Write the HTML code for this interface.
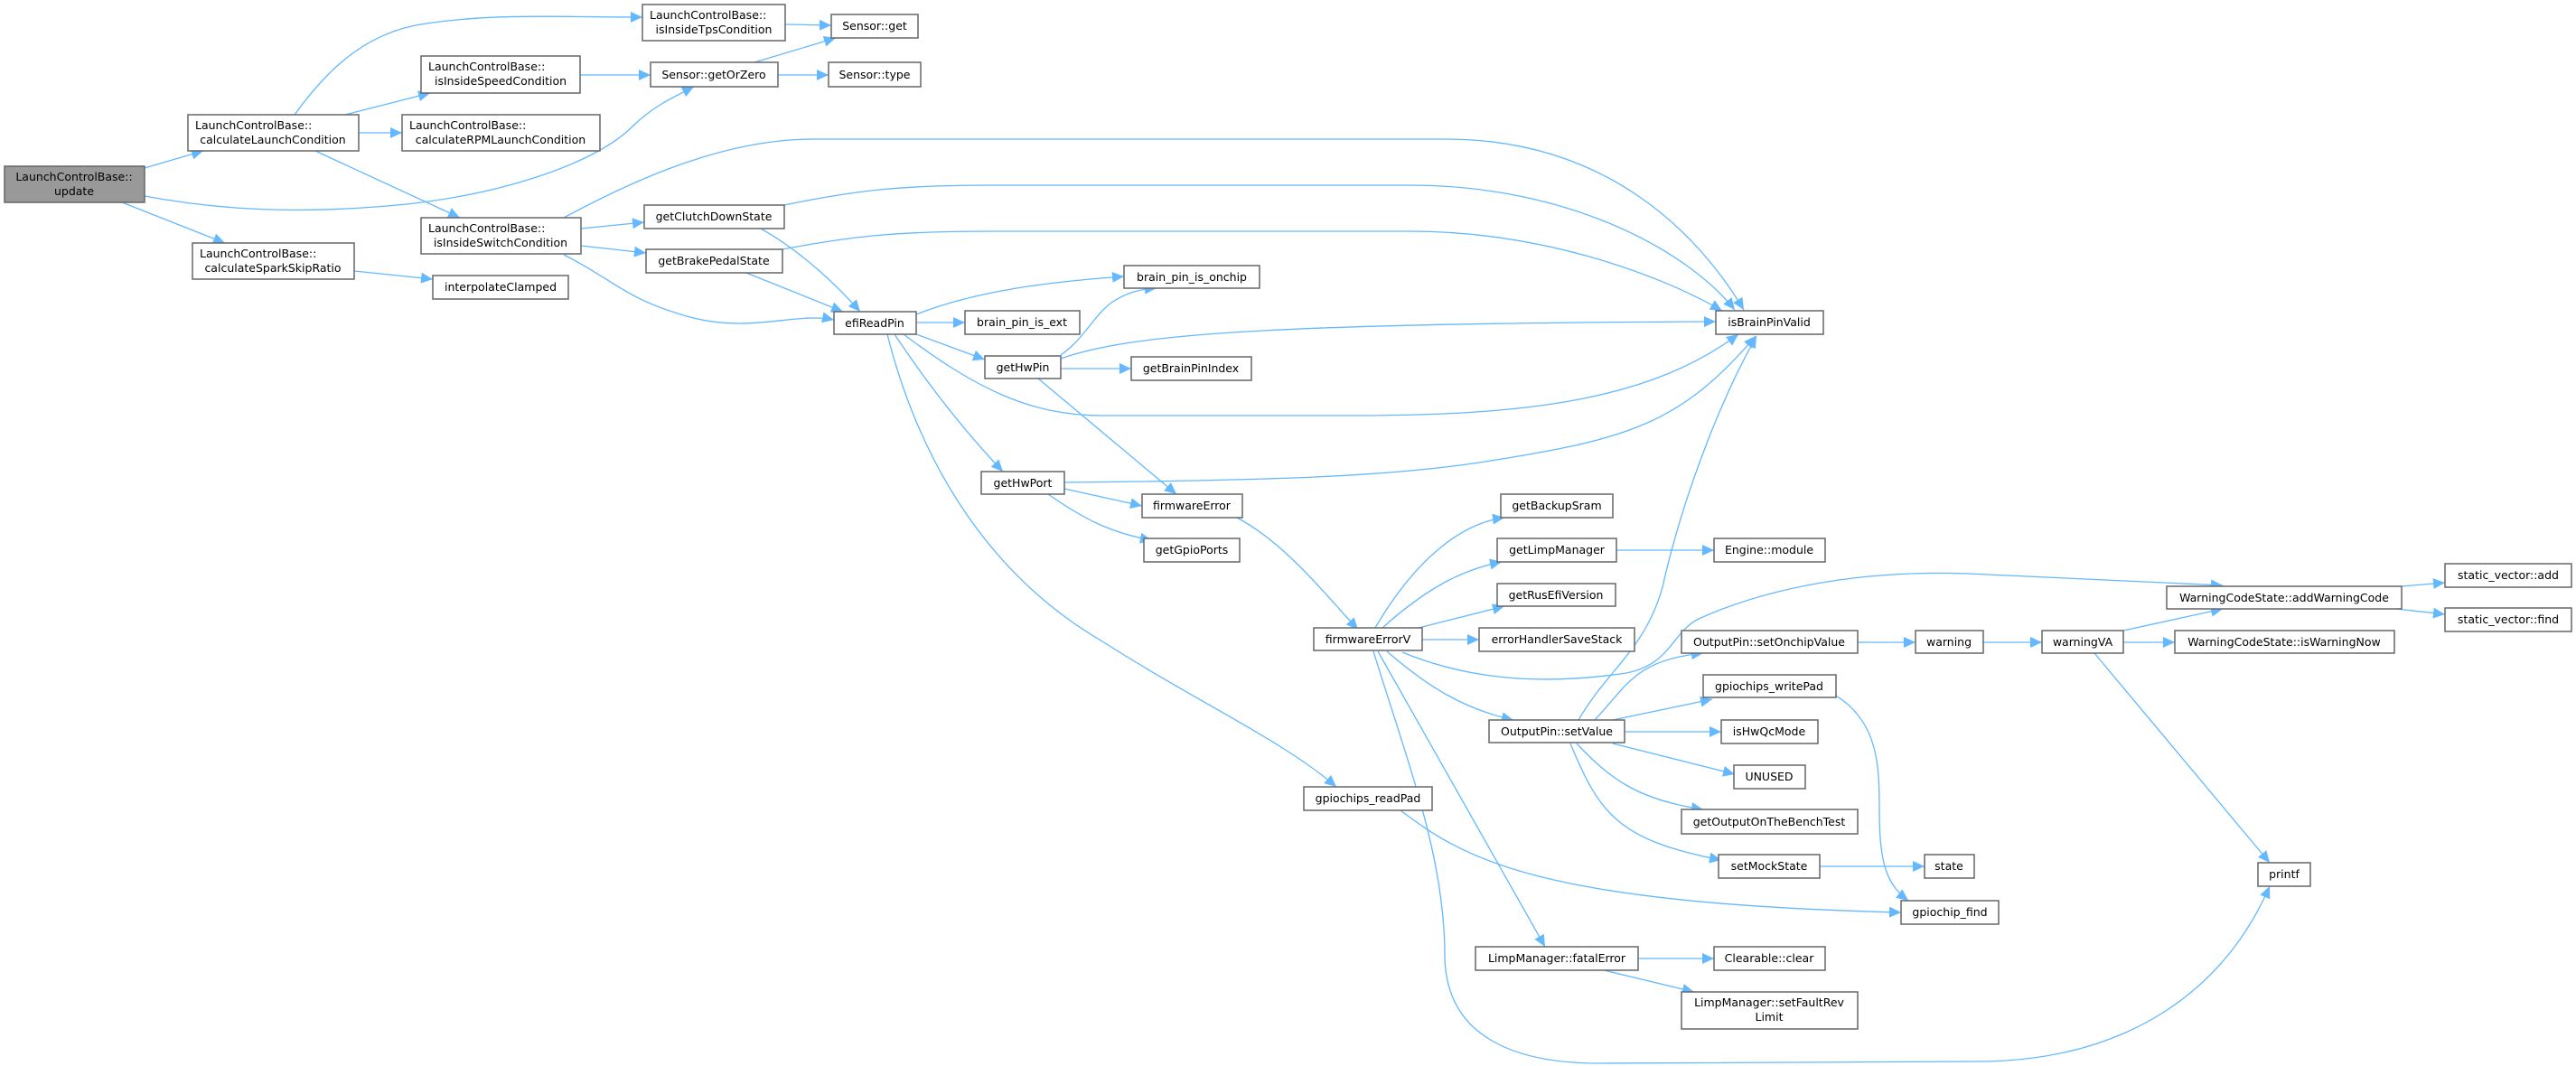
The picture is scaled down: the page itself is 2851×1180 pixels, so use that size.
<!DOCTYPE html>
<html><head><meta charset="utf-8"><style>
html,body{margin:0;padding:0;background:#fff;}
svg{display:block;}
text{font-family:"DejaVu Sans","Liberation Sans",sans-serif;font-size:12.5px;fill:#000;}
.n{fill:#fff;stroke:#666;stroke-width:1.5;}
.e{fill:none;stroke:#63b8ff;stroke-width:1.3;}
</style></head><body>
<svg width="2851" height="1180" viewBox="0 0 2851 1180" xmlns="http://www.w3.org/2000/svg">
<defs><marker id="a" markerUnits="userSpaceOnUse" markerWidth="14" markerHeight="12" refX="13" refY="6" orient="auto"><path d="M0,0 L13,6 L0,12 z" fill="#63b8ff"/></marker></defs>
<g class="e" marker-end="url(#a)">
<path d="M160,186 L225,167"/>
<path d="M160,217 C240,232 330,238 450,226 C560,214 660,180 700,140 C720,120 740,110 768,96"/>
<path d="M135,224 L249,269"/>
<path d="M326,127 C360,80 400,40 460,28 C540,14 620,19 711,19"/>
<path d="M382,127 L476,103"/>
<path d="M397,147 L445,147"/>
<path d="M349,167 L509,241"/>
<path d="M869,27 L920,28"/>
<path d="M642,83 L720,83"/>
<path d="M835,69 L925,42"/>
<path d="M861,83 L917,83"/>
<path d="M624,241 C700,200 800,154 900,154 L1600,154 C1780,154 1880,260 1930,343"/>
<path d="M643,253 L713,246"/>
<path d="M643,272 L715,280"/>
<path d="M624,282 C680,310 690,330 760,350 C830,370 880,345 923,354"/>
<path d="M868,227 C950,210 1000,205 1100,205 L1560,205 C1740,205 1870,280 1920,343"/>
<path d="M842,253 C890,280 930,320 952,345"/>
<path d="M866,276 C950,260 1000,256 1100,256 L1560,256 C1700,256 1830,300 1906,344"/>
<path d="M826,302 L933,345"/>
<path d="M392,300 L479,309"/>
<path d="M1014,348 C1080,322 1160,312 1244,306"/>
<path d="M1014,357 L1068,357"/>
<path d="M1014,370 L1090,398"/>
<path d="M1000,370 C1080,430 1140,460 1220,460 L1500,460 C1700,460 1830,440 1924,370"/>
<path d="M990,370 C1030,430 1070,480 1110,522"/>
<path d="M982,370 C1020,520 1100,640 1220,710 C1330,780 1420,820 1479,871"/>
<path d="M1174,393 C1200,375 1210,350 1230,335 C1245,325 1260,320 1280,319"/>
<path d="M1174,408 L1252,408"/>
<path d="M1174,397 C1250,370 1400,358 1899,356"/>
<path d="M1149,419 L1302,547"/>
<path d="M1178,534 C1400,532 1540,528 1650,510 C1800,486 1860,470 1943,372"/>
<path d="M1178,541 L1264,560"/>
<path d="M1160,547 C1200,575 1230,590 1275,598"/>
<path d="M1369,573 C1420,600 1460,650 1503,697"/>
<path d="M1522,695 C1560,630 1610,580 1665,573"/>
<path d="M1530,695 C1580,650 1620,630 1662,622"/>
<path d="M1570,695 L1665,671"/>
<path d="M1574,708 L1637,708"/>
<path d="M1552,722 C1620,750 1700,760 1800,745 C1850,735 1850,700 1880,685 C1980,640 2100,630 2200,636 L2460,648"/>
<path d="M1535,721 C1580,760 1620,785 1675,797"/>
<path d="M1525,721 L1710,1048"/>
<path d="M1520,721 C1560,850 1599,950 1599,1058 C1600,1150 1680,1177 1770,1177 L2187,1175 C2350,1175 2460,1100 2512,981"/>
<path d="M1789,609 L1897,609"/>
<path d="M1747,797 C1780,740 1820,720 1840,650 C1860,560 1900,450 1944,372"/>
<path d="M1765,797 C1800,760 1810,730 1885,723"/>
<path d="M1785,797 L1895,774"/>
<path d="M1799,810 L1905,810"/>
<path d="M1785,823 L1920,857"/>
<path d="M1745,823 C1780,860 1810,885 1885,896"/>
<path d="M1738,823 C1770,900 1790,930 1905,952"/>
<path d="M2014,959 L2130,959"/>
<path d="M2032,770 C2080,800 2080,850 2080,900 C2080,960 2090,980 2112,997"/>
<path d="M1550,897 C1620,950 1700,1000 2104,1010"/>
<path d="M2056,711 L2120,711"/>
<path d="M2195,711 L2260,711"/>
<path d="M2350,698 L2460,674"/>
<path d="M2350,711 L2407,711"/>
<path d="M2318,723 L2512,955"/>
<path d="M2658,649 L2706,645"/>
<path d="M2652,674 L2706,680"/>
<path d="M1813,1061 L1897,1061"/>
<path d="M1775,1074 L1875,1098"/>
</g>
<g>
<rect x="5" y="184" width="155" height="40" fill="#999" stroke="#666" stroke-width="1.5"/>
<text x="82" y="200" text-anchor="middle">LaunchControlBase::</text><text x="82" y="216" text-anchor="middle">update</text>
<rect class="n" x="208" y="127" width="189" height="40"/><text x="216" y="143">LaunchControlBase::</text><text x="302" y="159" text-anchor="middle">calculateLaunchCondition</text>
<rect class="n" x="711" y="5" width="158" height="40"/><text x="719" y="21">LaunchControlBase::</text><text x="790" y="37" text-anchor="middle">isInsideTpsCondition</text>
<rect class="n" x="920" y="16" width="96" height="26"/><text x="968" y="33" text-anchor="middle">Sensor::get</text>
<rect class="n" x="466" y="62" width="176" height="41"/><text x="474" y="78">LaunchControlBase::</text><text x="554" y="94" text-anchor="middle">isInsideSpeedCondition</text>
<rect class="n" x="720" y="69" width="141" height="27"/><text x="790" y="87" text-anchor="middle">Sensor::getOrZero</text>
<rect class="n" x="917" y="69" width="102" height="27"/><text x="968" y="87" text-anchor="middle">Sensor::type</text>
<rect class="n" x="445" y="127" width="219" height="40"/><text x="453" y="143">LaunchControlBase::</text><text x="554" y="159" text-anchor="middle">calculateRPMLaunchCondition</text>
<rect class="n" x="466" y="241" width="177" height="40"/><text x="474" y="257">LaunchControlBase::</text><text x="554" y="273" text-anchor="middle">isInsideSwitchCondition</text>
<rect class="n" x="713" y="227" width="155" height="26"/><text x="790" y="244" text-anchor="middle">getClutchDownState</text>
<rect class="n" x="715" y="276" width="151" height="26"/><text x="790" y="293" text-anchor="middle">getBrakePedalState</text>
<rect class="n" x="213" y="269" width="179" height="40"/><text x="221" y="285">LaunchControlBase::</text><text x="302" y="301" text-anchor="middle">calculateSparkSkipRatio</text>
<rect class="n" x="479" y="305" width="150" height="26"/><text x="554" y="322" text-anchor="middle">interpolateClamped</text>
<rect class="n" x="923" y="345" width="91" height="25"/><text x="968" y="362" text-anchor="middle">efiReadPin</text>
<rect class="n" x="1244" y="294" width="150" height="25"/><text x="1319" y="311" text-anchor="middle">brain_pin_is_onchip</text>
<rect class="n" x="1068" y="344" width="127" height="26"/><text x="1131" y="361" text-anchor="middle">brain_pin_is_ext</text>
<rect class="n" x="1090" y="394" width="84" height="25"/><text x="1132" y="411" text-anchor="middle">getHwPin</text>
<rect class="n" x="1252" y="395" width="133" height="26"/><text x="1318" y="412" text-anchor="middle">getBrainPinIndex</text>
<rect class="n" x="1899" y="344" width="119" height="26"/><text x="1958" y="361" text-anchor="middle">isBrainPinValid</text>
<rect class="n" x="1086" y="522" width="92" height="25"/><text x="1132" y="539" text-anchor="middle">getHwPort</text>
<rect class="n" x="1264" y="547" width="111" height="26"/><text x="1319" y="564" text-anchor="middle">firmwareError</text>
<rect class="n" x="1266" y="596" width="106" height="26"/><text x="1319" y="613" text-anchor="middle">getGpioPorts</text>
<rect class="n" x="1661" y="547" width="124" height="26"/><text x="1723" y="564" text-anchor="middle">getBackupSram</text>
<rect class="n" x="1657" y="596" width="132" height="26"/><text x="1723" y="613" text-anchor="middle">getLimpManager</text>
<rect class="n" x="1897" y="596" width="123" height="26"/><text x="1958" y="613" text-anchor="middle">Engine::module</text>
<rect class="n" x="1657" y="646" width="131" height="25"/><text x="1722" y="663" text-anchor="middle">getRusEfiVersion</text>
<rect class="n" x="1454" y="695" width="120" height="25"/><text x="1514" y="712" text-anchor="middle">firmwareErrorV</text>
<rect class="n" x="1637" y="695" width="172" height="26"/><text x="1723" y="712" text-anchor="middle">errorHandlerSaveStack</text>
<rect class="n" x="1861" y="698" width="195" height="25"/><text x="1958" y="715" text-anchor="middle">OutputPin::setOnchipValue</text>
<rect class="n" x="2120" y="698" width="75" height="25"/><text x="2157" y="715" text-anchor="middle">warning</text>
<rect class="n" x="2260" y="698" width="90" height="25"/><text x="2305" y="715" text-anchor="middle">warningVA</text>
<rect class="n" x="2407" y="698" width="243" height="25"/><text x="2528" y="715" text-anchor="middle">WarningCodeState::isWarningNow</text>
<rect class="n" x="2398" y="649" width="260" height="25"/><text x="2528" y="666" text-anchor="middle">WarningCodeState::addWarningCode</text>
<rect class="n" x="2706" y="624" width="140" height="26"/><text x="2776" y="641" text-anchor="middle">static_vector::add</text>
<rect class="n" x="2706" y="673" width="140" height="26"/><text x="2776" y="690" text-anchor="middle">static_vector::find</text>
<rect class="n" x="1885" y="747" width="147" height="25"/><text x="1958" y="764" text-anchor="middle">gpiochips_writePad</text>
<rect class="n" x="1648" y="797" width="150" height="25"/><text x="1723" y="814" text-anchor="middle">OutputPin::setValue</text>
<rect class="n" x="1905" y="797" width="107" height="26"/><text x="1958" y="814" text-anchor="middle">isHwQcMode</text>
<rect class="n" x="1919" y="847" width="79" height="26"/><text x="1958" y="864" text-anchor="middle">UNUSED</text>
<rect class="n" x="1443" y="871" width="142" height="26"/><text x="1514" y="888" text-anchor="middle">gpiochips_readPad</text>
<rect class="n" x="1861" y="896" width="195" height="27"/><text x="1958" y="914" text-anchor="middle">getOutputOnTheBenchTest</text>
<rect class="n" x="1902" y="946" width="112" height="26"/><text x="1958" y="963" text-anchor="middle">setMockState</text>
<rect class="n" x="2130" y="946" width="55" height="26"/><text x="2157" y="963" text-anchor="middle">state</text>
<rect class="n" x="2499" y="955" width="58" height="26"/><text x="2528" y="972" text-anchor="middle">printf</text>
<rect class="n" x="2104" y="997" width="108" height="26"/><text x="2158" y="1014" text-anchor="middle">gpiochip_find</text>
<rect class="n" x="1633" y="1048" width="180" height="26"/><text x="1723" y="1065" text-anchor="middle">LimpManager::fatalError</text>
<rect class="n" x="1897" y="1048" width="123" height="26"/><text x="1958" y="1065" text-anchor="middle">Clearable::clear</text>
<rect class="n" x="1861" y="1098" width="195" height="41"/><text x="1958" y="1114" text-anchor="middle">LimpManager::setFaultRev</text><text x="1958" y="1130" text-anchor="middle">Limit</text>
</g>
</svg>
</body></html>
